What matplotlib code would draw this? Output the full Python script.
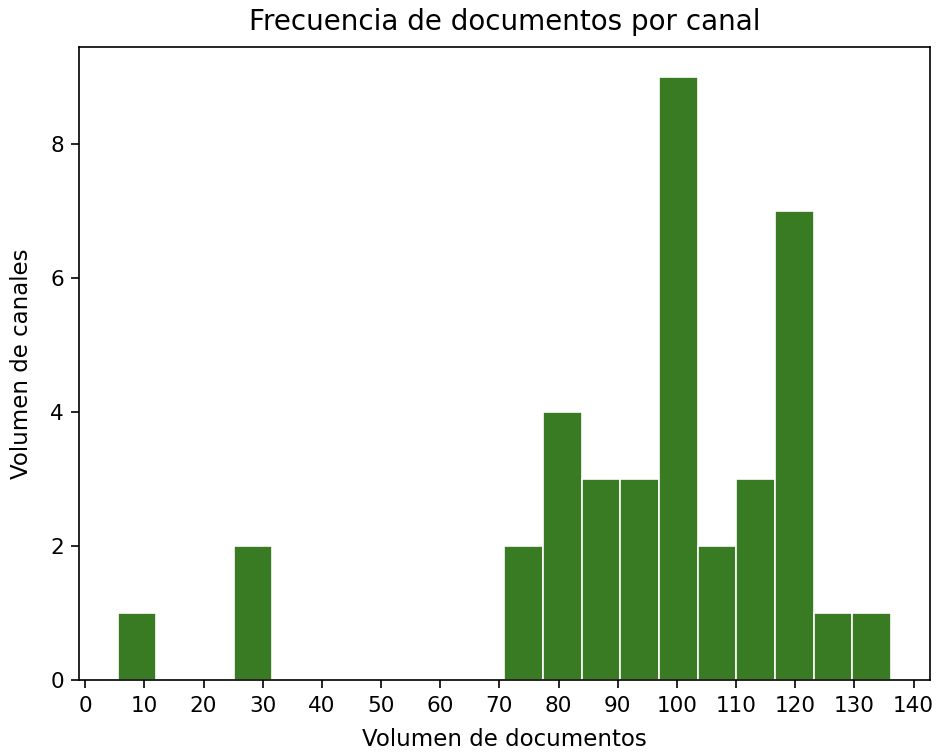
import numpy as np
import matplotlib
matplotlib.use("Agg")
import matplotlib.pyplot as plt

# Histogram bin edges and counts
bin_start = 5.5
bin_end = 136.2
n_bins = 20
counts = [1, 0, 0, 2, 0, 0, 0, 0, 0, 0, 2, 4, 3, 3, 9, 2, 3, 7, 1, 1]
xticks = list(range(0, 141, 10))

title = "Frecuencia de documentos por canal"
xlabel = "Volumen de documentos"
ylabel = "Volumen de canales"

edges = np.linspace(bin_start, bin_end, n_bins + 1)
centers = (edges[:-1] + edges[1:]) / 2

fig = plt.figure(figsize=(9.41, 7.55), dpi=100)
ax = fig.add_axes([0.084, 0.099, 0.904, 0.839])
ax.hist(centers, bins=edges, weights=counts, color="#387b22", edgecolor="white", linewidth=1.2)
ax.set_xticks(xticks)
ax.set_yticks([0, 2, 4, 6, 8])
ax.tick_params(labelsize=15.5, length=6, width=1.2, pad=5)
for s in ax.spines.values():
    s.set_linewidth(1.2)
ax.set_title(title, fontsize=20, pad=12)
ax.set_xlabel(xlabel, fontsize=16.5, labelpad=9)
ax.set_ylabel(ylabel, fontsize=16.5, labelpad=12)
fig.savefig("out.png", dpi=100)
